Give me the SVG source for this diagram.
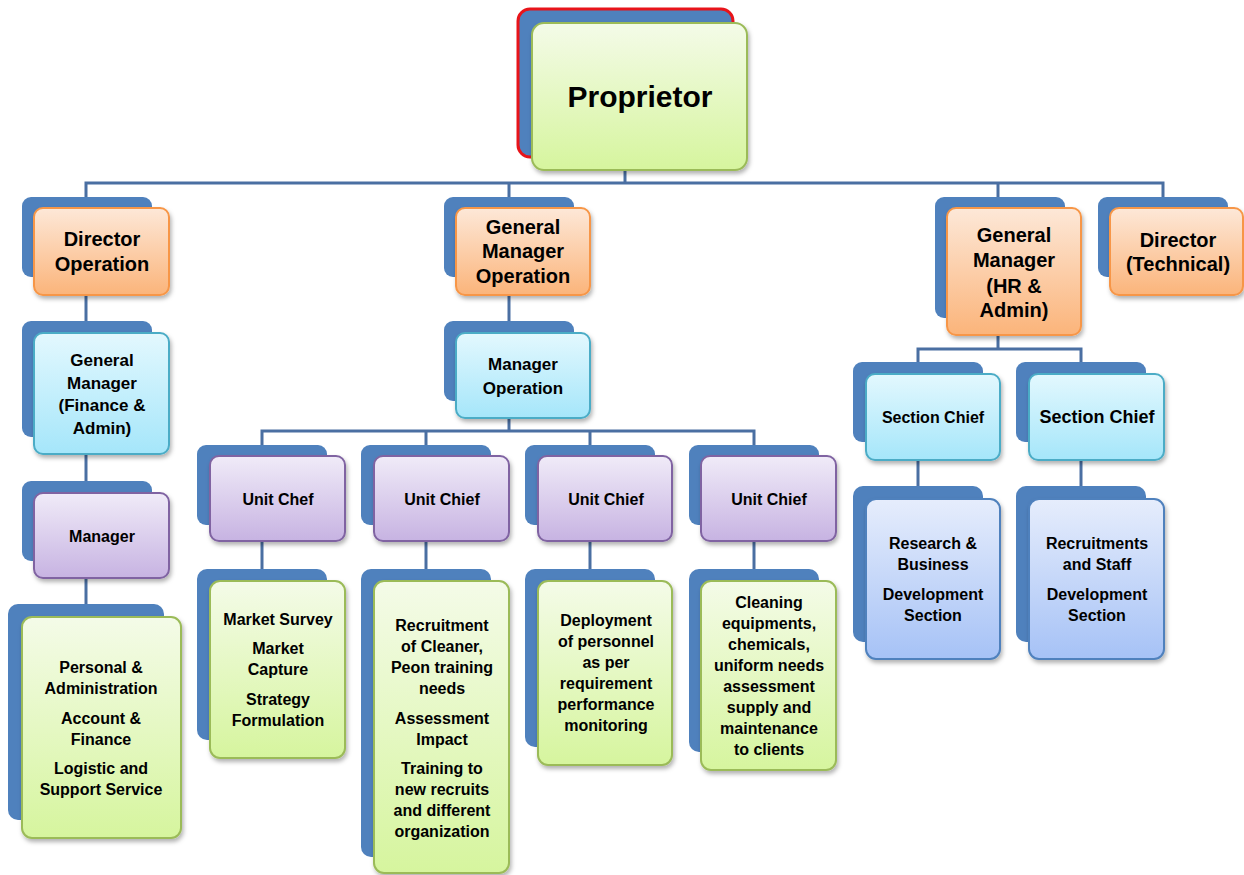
<svg xmlns="http://www.w3.org/2000/svg" width="1244" height="875" viewBox="0 0 1244 875">
<defs>
<linearGradient id="gGreen" x1="0" y1="0" x2="0" y2="1"><stop offset="0" stop-color="#f4fbe8"/><stop offset="1" stop-color="#d6f59e"/></linearGradient>
<linearGradient id="gOrange" x1="0" y1="0" x2="0" y2="1"><stop offset="0" stop-color="#fde8d8"/><stop offset="1" stop-color="#fbb47a"/></linearGradient>
<linearGradient id="gCyan" x1="0" y1="0" x2="0" y2="1"><stop offset="0" stop-color="#e3f8fe"/><stop offset="1" stop-color="#a5e6fa"/></linearGradient>
<linearGradient id="gPurple" x1="0" y1="0" x2="0" y2="1"><stop offset="0" stop-color="#f0ebf8"/><stop offset="1" stop-color="#c7b3e2"/></linearGradient>
<linearGradient id="gBlue" x1="0" y1="0" x2="0" y2="1"><stop offset="0" stop-color="#e6edfc"/><stop offset="1" stop-color="#a6c2f6"/></linearGradient>
<filter id="sh" x="-10%" y="-10%" width="125%" height="125%"><feDropShadow dx="1.5" dy="3" stdDeviation="2" flood-color="#000" flood-opacity="0.3"/></filter>
</defs>
<style>
.back{fill:#4f81bd}
.f{filter:url(#sh);stroke-width:2}
.green{fill:url(#gGreen);stroke:#9bbb59}
.orange{fill:url(#gOrange);stroke:#f79646}
.cyan{fill:url(#gCyan);stroke:#4bacc6}
.purple{fill:url(#gPurple);stroke:#8064a2}
.blue{fill:url(#gBlue);stroke:#4f81bd}
text{font-family:"Liberation Sans",Arial,sans-serif;font-weight:bold;fill:#000;text-anchor:middle}
.t20{font-size:20px}
.t17{font-size:17px}
.t16{font-size:16px}
.conn path{fill:none;stroke:#4a6fa2;stroke-width:3}
</style>
<g class="conn" id="connectors">
<path d="M625 170 V183"/>
<path d="M86 197 V183 H1163 V197"/>
<path d="M509 183 V197"/>
<path d="M998 183 V197"/>
<path d="M86 295 V321"/>
<path d="M86 454 V481"/>
<path d="M86 578 V604"/>
<path d="M509 295 V321"/>
<path d="M509 418 V431"/>
<path d="M262 445 V431 H754 V445"/>
<path d="M426 431 V445"/>
<path d="M590 431 V445"/>
<path d="M262 541 V569"/>
<path d="M426 541 V569"/>
<path d="M590 541 V569"/>
<path d="M754 541 V569"/>
<path d="M998 335 V349"/>
<path d="M918 362 V349 H1081 V362"/>
<path d="M918 460 V486"/>
<path d="M1081 460 V486"/>
</g>
<g id="proprietor">
<rect x="518" y="9" width="215" height="148" rx="12" fill="#4f81bd" stroke="#e8141a" stroke-width="3"/>
<rect class="f green" x="532" y="23" width="215" height="147" rx="12"/>
<text x="640" y="107" font-size="30">Proprietor</text>
</g>
<g id="director-operation">
<rect class="back" x="22" y="197" width="130" height="80" rx="9"/>
<rect class="f orange" x="34" y="208" width="135" height="87" rx="9"/>
<text class="t20" x="102" y="246">Director</text>
<text class="t20" x="102" y="271">Operation</text>
</g>
<g id="gm-finance">
<rect class="back" x="22" y="321" width="130" height="116" rx="9"/>
<rect class="f cyan" x="34" y="333" width="135" height="121" rx="9"/>
<text class="t17" x="102" y="366">General</text>
<text class="t17" x="102" y="389">Manager</text>
<text class="t17" x="102" y="411">(Finance &amp;</text>
<text class="t17" x="102" y="434">Admin)</text>
</g>
<g id="manager">
<rect class="back" x="22" y="481" width="130" height="80" rx="9"/>
<rect class="f purple" x="34" y="493" width="135" height="85" rx="9"/>
<text class="t16" x="102" y="542">Manager</text>
</g>
<g id="personal">
<rect class="back" x="8" y="604" width="156" height="216" rx="10"/>
<rect class="f green" x="22" y="617" width="159" height="221" rx="10"/>
<text class="t16" x="101" y="673">Personal &amp;</text>
<text class="t16" x="101" y="694">Administration</text>
<text class="t16" x="101" y="724">Account &amp;</text>
<text class="t16" x="101" y="745">Finance</text>
<text class="t16" x="101" y="774">Logistic and</text>
<text class="t16" x="101" y="795">Support Service</text>
</g>
<g id="gm-operation">
<rect class="back" x="444" y="197" width="130" height="80" rx="9"/>
<rect class="f orange" x="456" y="208" width="134" height="87" rx="9"/>
<text class="t20" x="523" y="234">General</text>
<text class="t20" x="523" y="258">Manager</text>
<text class="t20" x="523" y="283">Operation</text>
</g>
<g id="manager-operation">
<rect class="back" x="444" y="321" width="130" height="80" rx="9"/>
<rect class="f cyan" x="456" y="333" width="134" height="85" rx="9"/>
<text class="t17" x="523" y="370">Manager</text>
<text class="t17" x="523" y="394">Operation</text>
</g>
<g id="unit-chef">
<rect class="back" x="197" y="445" width="130" height="80" rx="9"/>
<rect class="f purple" x="210" y="456" width="135" height="85" rx="9"/>
<text class="t16" x="278" y="505">Unit Chef</text>
</g>
<g id="unit-chief-2">
<rect class="back" x="361" y="445" width="130" height="80" rx="9"/>
<rect class="f purple" x="374" y="456" width="135" height="85" rx="9"/>
<text class="t16" x="442" y="505">Unit Chief</text>
</g>
<g id="unit-chief-3">
<rect class="back" x="525" y="445" width="130" height="80" rx="9"/>
<rect class="f purple" x="538" y="456" width="134" height="85" rx="9"/>
<text class="t16" x="606" y="505">Unit Chief</text>
</g>
<g id="unit-chief-4">
<rect class="back" x="689" y="445" width="130" height="80" rx="9"/>
<rect class="f purple" x="701" y="456" width="135" height="85" rx="9"/>
<text class="t16" x="769" y="505">Unit Chief</text>
</g>
<g id="market">
<rect class="back" x="197" y="569" width="130" height="171" rx="10"/>
<rect class="f green" x="210" y="581" width="135" height="177" rx="10"/>
<text class="t16" x="278" y="625">Market Survey</text>
<text class="t16" x="278" y="654">Market</text>
<text class="t16" x="278" y="675">Capture</text>
<text class="t16" x="278" y="705">Strategy</text>
<text class="t16" x="278" y="726">Formulation</text>
</g>
<g id="recruitment">
<rect class="back" x="361" y="569" width="130" height="288" rx="10"/>
<rect class="f green" x="374" y="581" width="135" height="292" rx="10"/>
<text class="t16" x="442" y="631">Recruitment</text>
<text class="t16" x="442" y="652">of Cleaner,</text>
<text class="t16" x="442" y="673">Peon training</text>
<text class="t16" x="442" y="694">needs</text>
<text class="t16" x="442" y="724">Assessment</text>
<text class="t16" x="442" y="745">Impact</text>
<text class="t16" x="442" y="774">Training to</text>
<text class="t16" x="442" y="795">new recruits</text>
<text class="t16" x="442" y="816">and different</text>
<text class="t16" x="442" y="837">organization</text>
</g>
<g id="deployment">
<rect class="back" x="525" y="569" width="130" height="178" rx="10"/>
<rect class="f green" x="538" y="581" width="134" height="184" rx="10"/>
<text class="t16" x="606" y="626">Deployment</text>
<text class="t16" x="606" y="647">of personnel</text>
<text class="t16" x="606" y="668">as per</text>
<text class="t16" x="606" y="689">requirement</text>
<text class="t16" x="606" y="710">performance</text>
<text class="t16" x="606" y="731">monitoring</text>
</g>
<g id="cleaning">
<rect class="back" x="689" y="569" width="130" height="183" rx="10"/>
<rect class="f green" x="701" y="581" width="135" height="189" rx="10"/>
<text class="t16" x="769" y="608">Cleaning</text>
<text class="t16" x="769" y="629">equipments,</text>
<text class="t16" x="769" y="650">chemicals,</text>
<text class="t16" x="769" y="671">uniform needs</text>
<text class="t16" x="769" y="692">assessment</text>
<text class="t16" x="769" y="713">supply and</text>
<text class="t16" x="769" y="734">maintenance</text>
<text class="t16" x="769" y="755">to clients</text>
</g>
<g id="gm-hr">
<rect class="back" x="935" y="197" width="130" height="121" rx="9"/>
<rect class="f orange" x="947" y="208" width="134" height="127" rx="9"/>
<text class="t20" x="1014" y="242">General</text>
<text class="t20" x="1014" y="267">Manager</text>
<text class="t20" x="1014" y="293">(HR &amp;</text>
<text class="t20" x="1014" y="317">Admin)</text>
</g>
<g id="director-technical">
<rect class="back" x="1098" y="197" width="130" height="80" rx="9"/>
<rect class="f orange" x="1110" y="208" width="133" height="87" rx="9"/>
<text class="t20" x="1178" y="247">Director</text>
<text class="t20" x="1178" y="271">(Technical)</text>
</g>
<g id="section-chief-1">
<rect class="back" x="853" y="362" width="130" height="80" rx="9"/>
<rect class="f cyan" x="866" y="374" width="134" height="86" rx="9"/>
<text class="t16" x="933" y="423">Section Chief</text>
</g>
<g id="section-chief-2">
<rect class="back" x="1016" y="362" width="130" height="80" rx="9"/>
<rect class="f cyan" x="1029" y="374" width="135" height="86" rx="9"/>
<text x="1097" y="423" font-size="18">Section Chief</text>
</g>
<g id="research">
<rect class="back" x="853" y="486" width="130" height="156" rx="10"/>
<rect class="f blue" x="866" y="499" width="134" height="160" rx="10"/>
<text class="t16" x="933" y="549">Research &amp;</text>
<text class="t16" x="933" y="570">Business</text>
<text class="t16" x="933" y="600">Development</text>
<text class="t16" x="933" y="621">Section</text>
</g>
<g id="recruitments-staff">
<rect class="back" x="1016" y="486" width="130" height="156" rx="10"/>
<rect class="f blue" x="1029" y="499" width="135" height="160" rx="10"/>
<text class="t16" x="1097" y="549">Recruitments</text>
<text class="t16" x="1097" y="570">and Staff</text>
<text class="t16" x="1097" y="600">Development</text>
<text class="t16" x="1097" y="621">Section</text>
</g>
</svg>
